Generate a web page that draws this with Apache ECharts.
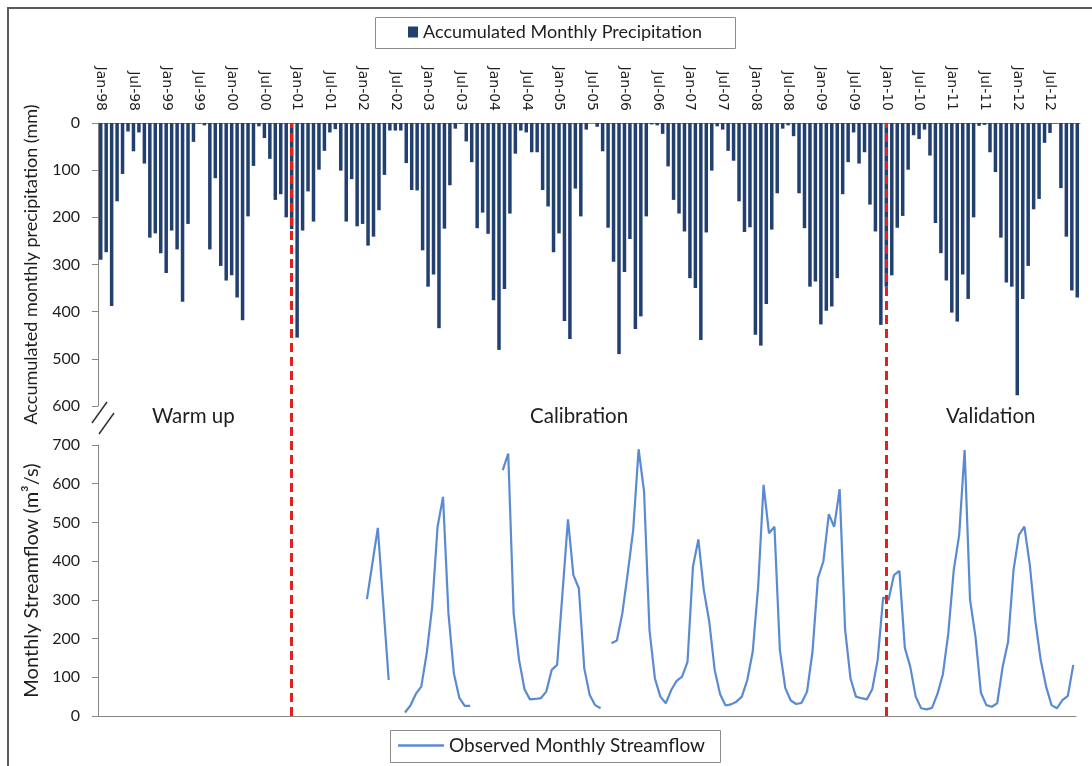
<!DOCTYPE html>
<html>
<head>
<meta charset="utf-8">
<script src="https://cdn.jsdelivr.net/npm/echarts@6/dist/echarts.min.js"></script>
<style>
  html, body { margin: 0; padding: 0; background: #ffffff; }
  #chart { width: 1092px; height: 766px; }
</style>
</head>
<body>
<div id="chart"></div>
<script>
// Month labels, Jan-98 .. Dec-12
const monthNames = ['Jan', 'Feb', 'Mar', 'Apr', 'May', 'Jun', 'Jul', 'Aug', 'Sep', 'Oct', 'Nov', 'Dec'];
const yearLabels = ['98', '99', '00', '01', '02', '03', '04', '05', '06', '07', '08', '09', '10', '11', '12'];

// Accumulated monthly precipitation (mm), one row per year
const precipitation = [
  290, 274, 388, 166, 108, 18, 60, 20, 86, 243, 234, 276,   // 1998
  318, 228, 268, 379, 214, 40, 1, 5, 268, 117, 303, 334,    // 1999
  323, 370, 418, 198, 91, 7, 32, 76, 163, 151, 200, 225,    // 2000
  455, 228, 145, 209, 99, 59, 20, 13, 101, 209, 119, 219,   // 2001
  214, 260, 241, 185, 110, 16, 16, 16, 85, 142, 143, 270,   // 2002
  347, 321, 435, 224, 132, 12, 2, 39, 83, 223, 190, 235,    // 2003
  376, 481, 352, 192, 65, 16, 20, 62, 62, 142, 177, 274,    // 2004
  234, 420, 458, 139, 198, 14, 0, 8, 60, 222, 294, 490,     // 2005
  316, 246, 437, 410, 198, 3, 5, 23, 92, 163, 192, 230,     // 2006
  329, 350, 460, 232, 101, 7, 14, 59, 80, 166, 231, 221,    // 2007
  449, 472, 384, 226, 149, 12, 5, 28, 149, 223, 347, 336,   // 2008
  427, 398, 389, 329, 151, 83, 20, 86, 62, 173, 230, 428,   // 2009
  347, 323, 222, 197, 99, 26, 34, 14, 69, 212, 276, 334,    // 2010
  402, 421, 321, 373, 200, 6, 4, 62, 104, 243, 338, 347,    // 2011
  577, 373, 303, 183, 161, 42, 21, 1, 138, 241, 355, 370    // 2012
];

// Observed monthly streamflow (m3/s), null where no record exists
const streamflow = [
  null, null, null, null, null, null, null, null, null, null, null, null, // 1998
  null, null, null, null, null, null, null, null, null, null, null, null, // 1999
  null, null, null, null, null, null, null, null, null, null, null, null, // 2000
  null, null, null, null, null, null, null, null, null, null, null, null, // 2001
  null, 302, 394, 486, 290, 93, null, null, 9, 27, 57, 76,                // 2002
  162, 282, 489, 566, 265, 110, 47, 26, 26, null, null, null,             // 2003
  null, null, 635, 678, 265, 145, 69, 43, 44, 46, 63, 119,                // 2004
  132, 320, 508, 364, 330, 123, 54, 28, 20, null, 188, 195,               // 2005
  265, 369, 480, 689, 580, 222, 97, 50, 33, 67, 91, 102,                  // 2006
  140, 386, 456, 325, 244, 119, 56, 27, 30, 37, 50, 93,                   // 2007
  166, 334, 597, 472, 489, 170, 72, 40, 31, 34, 63, 166,                  // 2008
  356, 399, 521, 489, 586, 224, 97, 50, 46, 43, 69, 145,                  // 2009
  306, 300, 364, 375, 176, 127, 50, 20, 17, 21, 57, 108,                  // 2010
  214, 377, 468, 687, 300, 205, 60, 28, 24, 33, 127, 192,                 // 2011
  377, 468, 489, 390, 248, 145, 76, 28, 20, 41, 52, 132                   // 2012
];

// Months marking the end of warm-up and the start of validation
const periodMarks = ['Dec-00', 'Jan-10'];
const periodNames = ['Warm up', 'Calibration', 'Validation'];

const months = [];
yearLabels.forEach(function (y) {
  monthNames.forEach(function (m) { months.push(m + '-' + y); });
});

const FONT = 'Lato, "Open Sans", sans-serif';
const TICK_FONT = '"DejaVu Sans", Verdana, sans-serif';
const AXIS_GREY = '#868686';
const TEXT = '#1e1e1e';
const BAR_COLOR = '#22406f';
const LINE_COLOR = '#5a8bd2';

const chart = echarts.init(document.getElementById('chart'), null, { renderer: 'canvas' });

const option = {
  backgroundColor: '#ffffff',
  animation: false,
  textStyle: { fontFamily: FONT, color: TEXT },
  grid: [
    { left: 98, right: 12, top: 123, height: 283 },   // precipitation
    { left: 98, right: 16, top: 445, height: 271 },   // streamflow
    { left: 98, right: 12, top: 123, height: 593 }    // period separators
  ],
  legend: [
    {
      data: ['Accumulated Monthly Precipitation'],
      left: 408, top: 23, padding: 0,
      itemWidth: 10, itemHeight: 11, itemGap: 6,
      textStyle: { fontFamily: FONT, fontSize: 18, color: TEXT },
      icon: 'rect'
    },
    {
      data: [{ name: 'Observed Monthly Streamflow', icon: 'rect' }],
      left: 398, top: 736, padding: 0,
      itemWidth: 46, itemHeight: 2.5,
      textStyle: { fontFamily: FONT, fontSize: 19, color: TEXT }
    }
  ],
  xAxis: [
    {
      type: 'category', gridIndex: 0, data: months, position: 'top',
      axisLine: { onZero: false, lineStyle: { color: AXIS_GREY, width: 1 } },
      axisTick: { interval: 0, length: 3, lineStyle: { color: AXIS_GREY } },
      axisLabel: { interval: 5, rotate: 90, fontSize: 14, color: TEXT, fontFamily: TICK_FONT, margin: 12 },
      splitLine: { show: false }
    },
    {
      type: 'category', gridIndex: 0, data: months, position: 'top',
      axisLine: { show: false },
      axisTick: { interval: 5, length: 6, lineStyle: { color: AXIS_GREY } },
      axisLabel: { show: false },
      splitLine: { show: false }
    },
    {
      type: 'category', gridIndex: 1, data: months, position: 'bottom',
      axisLine: { onZero: false, lineStyle: { color: AXIS_GREY, width: 1 } },
      axisTick: { interval: 0, length: 4, lineStyle: { color: AXIS_GREY } },
      axisLabel: { show: false },
      splitLine: { show: false }
    },
    {
      type: 'category', gridIndex: 1, data: months, position: 'bottom',
      axisLine: { show: false },
      axisTick: { interval: 5, length: 6, lineStyle: { color: AXIS_GREY } },
      axisLabel: { show: false },
      splitLine: { show: false }
    },
    {
      type: 'category', gridIndex: 2, data: months, show: false
    }
  ],
  yAxis: [
    {
      type: 'value', gridIndex: 0, inverse: true, min: 0, max: 600, interval: 100,
      name: 'Accumulated monthly precipitation (mm)',
      nameLocation: 'middle', nameGap: 58,
      nameTextStyle: { fontSize: 18, color: TEXT, fontFamily: FONT },
      axisLine: { show: true, lineStyle: { color: AXIS_GREY } },
      axisTick: { show: true, length: 6, lineStyle: { color: AXIS_GREY } },
      axisLabel: { fontSize: 16, color: TEXT, margin: 18, fontFamily: FONT },
      splitLine: { show: false }
    },
    {
      type: 'value', gridIndex: 1, min: 0, max: 700, interval: 100,
      name: 'Monthly Streamflow (m³/s)',
      nameLocation: 'middle', nameGap: 55,
      nameTextStyle: { fontSize: 20, color: TEXT, fontFamily: FONT },
      axisLine: { show: true, lineStyle: { color: AXIS_GREY } },
      axisTick: { show: true, length: 6, lineStyle: { color: AXIS_GREY } },
      axisLabel: { fontSize: 16, color: TEXT, margin: 18, fontFamily: FONT },
      splitLine: { show: false }
    },
    { type: 'value', gridIndex: 2, min: 0, max: 1, show: false }
  ],
  series: [
    {
      name: 'Accumulated Monthly Precipitation',
      type: 'bar', xAxisIndex: 0, yAxisIndex: 0,
      data: precipitation,
      barWidth: 3.5,
      itemStyle: { color: BAR_COLOR },
      silent: true
    },
    {
      name: 'Observed Monthly Streamflow',
      type: 'line', xAxisIndex: 2, yAxisIndex: 1,
      data: streamflow,
      connectNulls: false,
      symbol: 'none', showSymbol: false,
      lineStyle: { color: LINE_COLOR, width: 2.2 },
      itemStyle: { color: LINE_COLOR },
      silent: true
    },
    {
      name: 'periods',
      type: 'line', xAxisIndex: 4, yAxisIndex: 2,
      data: [],
      silent: true,
      markLine: {
        silent: true,
        symbol: ['none', 'none'],
        label: { show: false },
        lineStyle: { color: '#e3201b', width: 3, type: [9, 5] },
        data: periodMarks.map(function (m) { return { xAxis: m }; })
      }
    }
  ],
  graphic: [
    // outer frame
    { type: 'rect', shape: { x: 8, y: 8, width: 1100, height: 790 }, style: { fill: 'none', stroke: '#5a5a5a', lineWidth: 2 }, silent: true },
    // legend boxes
    { type: 'rect', shape: { x: 375.5, y: 17.5, width: 360, height: 31 }, style: { fill: 'none', stroke: '#8c8c8c', lineWidth: 1 }, silent: true },
    { type: 'rect', shape: { x: 390.5, y: 730.5, width: 330, height: 32 }, style: { fill: 'none', stroke: '#8c8c8c', lineWidth: 1 }, silent: true },
    // axis break marks
    { type: 'line', shape: { x1: 92, y1: 423, x2: 107, y2: 402 }, style: { stroke: '#333', lineWidth: 1.5 }, silent: true },
    { type: 'line', shape: { x1: 99, y1: 434, x2: 114, y2: 413 }, style: { stroke: '#333', lineWidth: 1.5 }, silent: true },
    // period names
    { type: 'text', left: 152, top: 406, style: { text: periodNames[0], font: '20.5px ' + FONT, fill: TEXT }, silent: true },
    { type: 'text', left: 530, top: 406, style: { text: periodNames[1], font: '20.5px ' + FONT, fill: TEXT }, silent: true },
    { type: 'text', left: 946, top: 406, style: { text: periodNames[2], font: '20.5px ' + FONT, fill: TEXT }, silent: true }
  ]
};

chart.setOption(option);
</script>
</body>
</html>
